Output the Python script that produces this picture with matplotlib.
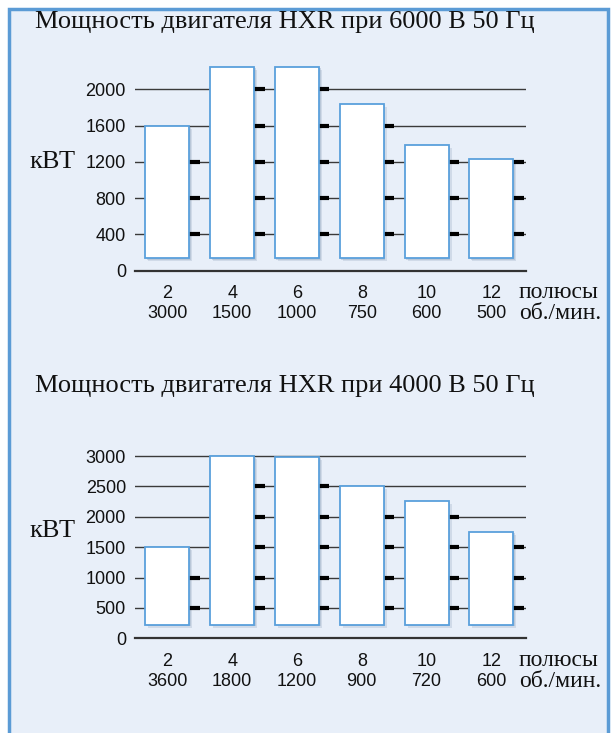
import matplotlib
matplotlib.use("Agg")
import matplotlib.pyplot as plt
from matplotlib.patches import Rectangle
import matplotlib.transforms as mtransforms

# data
poles = ["2", "4", "6", "8", "10", "12"]
rpm_6000 = ["3000", "1500", "1000", "750", "600", "500"]
kw_6000 = [1600, 2250, 2250, 1840, 1390, 1230]
base_6000 = 140
ticks_6000 = [0, 400, 800, 1200, 1600, 2000]

rpm_4000 = ["3600", "1800", "1200", "900", "720", "600"]
kw_4000 = [1500, 3000, 2990, 2500, 2260, 1750]
base_4000 = 220
ticks_4000 = [0, 500, 1000, 1500, 2000, 2500, 3000]

W, H = 616, 733
fig = plt.figure(figsize=(W / 100, H / 100), dpi=100)
fig.patch.set_facecolor("white")

# light blue panel with blue border
fig.add_artist(Rectangle((9 / W, -0.02), (608 - 9) / W, (H - 9) / H + 0.02,
                         transform=fig.transFigure, facecolor="#e8eff9",
                         edgecolor="#5b9bd5", lw=2.5, zorder=0))

serif = "Liberation Serif"
sans = "Liberation Sans"


def px(x, y):
    # figure pixel (from top-left) -> figure fraction
    return x / W, 1 - y / H


def draw_chart(top_px, zero_px, ymax, values, base, ticks, rpm, title, title_y, unit_y):
    ax = fig.add_axes([135 / W, 1 - zero_px / H, 390.7 / W, (zero_px - top_px) / H])
    ax.set_facecolor("none")
    ax.set_xlim(-0.5, 5.53)
    ax.set_ylim(0, ymax)
    for s in ["top", "right", "left"]:
        ax.spines[s].set_visible(False)
    ax.spines["bottom"].set_color("#333333")
    ax.spines["bottom"].set_linewidth(1.6)
    ax.set_xticks([])
    ax.set_yticks(ticks)
    ax.set_yticklabels([str(t) for t in ticks], fontsize=13, family=sans, color="#111111")
    ax.tick_params(axis="y", length=0, pad=6.5)

    for t in ticks[1:]:
        ax.axhline(t, color="#3a3a3a", lw=1.0, zorder=1)

    w = 0.68
    sh1 = mtransforms.offset_copy(ax.transData, fig=fig, x=3, y=-3, units="dots")
    sh2 = mtransforms.offset_copy(ax.transData, fig=fig, x=1.5, y=-1.5, units="dots")
    for i, v in enumerate(values):
        left = i - w / 2
        ax.add_patch(Rectangle((left, base), w, v - base, transform=sh1,
                               facecolor="#b4c2d4", edgecolor="none", alpha=0.45, zorder=2))
        ax.add_patch(Rectangle((left, base), w, v - base, transform=sh2,
                               facecolor="#9fb0c6", edgecolor="none", alpha=0.45, zorder=2))
        # thick grid pieces right of the bar
        for t in ticks[1:]:
            if t < v:
                ax.hlines(t, i + w / 2, i + w / 2 + 0.16, color="black", lw=3, zorder=2)
    ax.bar(range(len(values)), [v - base for v in values], bottom=base, width=w,
           color="white", edgecolor="#5aa0dc", linewidth=1.3, zorder=3)

    for i, (p, r) in enumerate(zip(poles, rpm)):
        ax.annotate(p, xy=(i, 0), xytext=(0, -16.5), textcoords="offset points",
                    ha="center", va="center", fontsize=13, family=sans, color="#111111")
        ax.annotate(r, xy=(i, 0), xytext=(0, -31), textcoords="offset points",
                    ha="center", va="center", fontsize=13, family=sans, color="#111111")

    fig.text(*px(519, zero_px + 22), "полюсы", fontsize=17, family=serif,
             ha="left", va="center", color="#111111")
    fig.text(*px(519, zero_px + 43), "об./мин.", fontsize=17, family=serif,
             ha="left", va="center", color="#111111")
    fig.text(*px(29, unit_y), "кВТ", fontsize=19, family=serif,
             ha="left", va="center", color="#111111")
    fig.text(*px(35, title_y), title, fontsize=19, family=serif,
             ha="left", va="center", color="#111111")


draw_chart(53, 270.7, 2400, kw_6000, base_6000, ticks_6000, rpm_6000,
           "Мощность двигателя HXR при 6000 В 50 Гц", 22, 162)
draw_chart(431.7, 638.3, 3400, kw_4000, base_4000, ticks_4000, rpm_4000,
           "Мощность двигателя HXR при 4000 В 50 Гц", 386, 531)

fig.savefig("out.png", dpi=100)
